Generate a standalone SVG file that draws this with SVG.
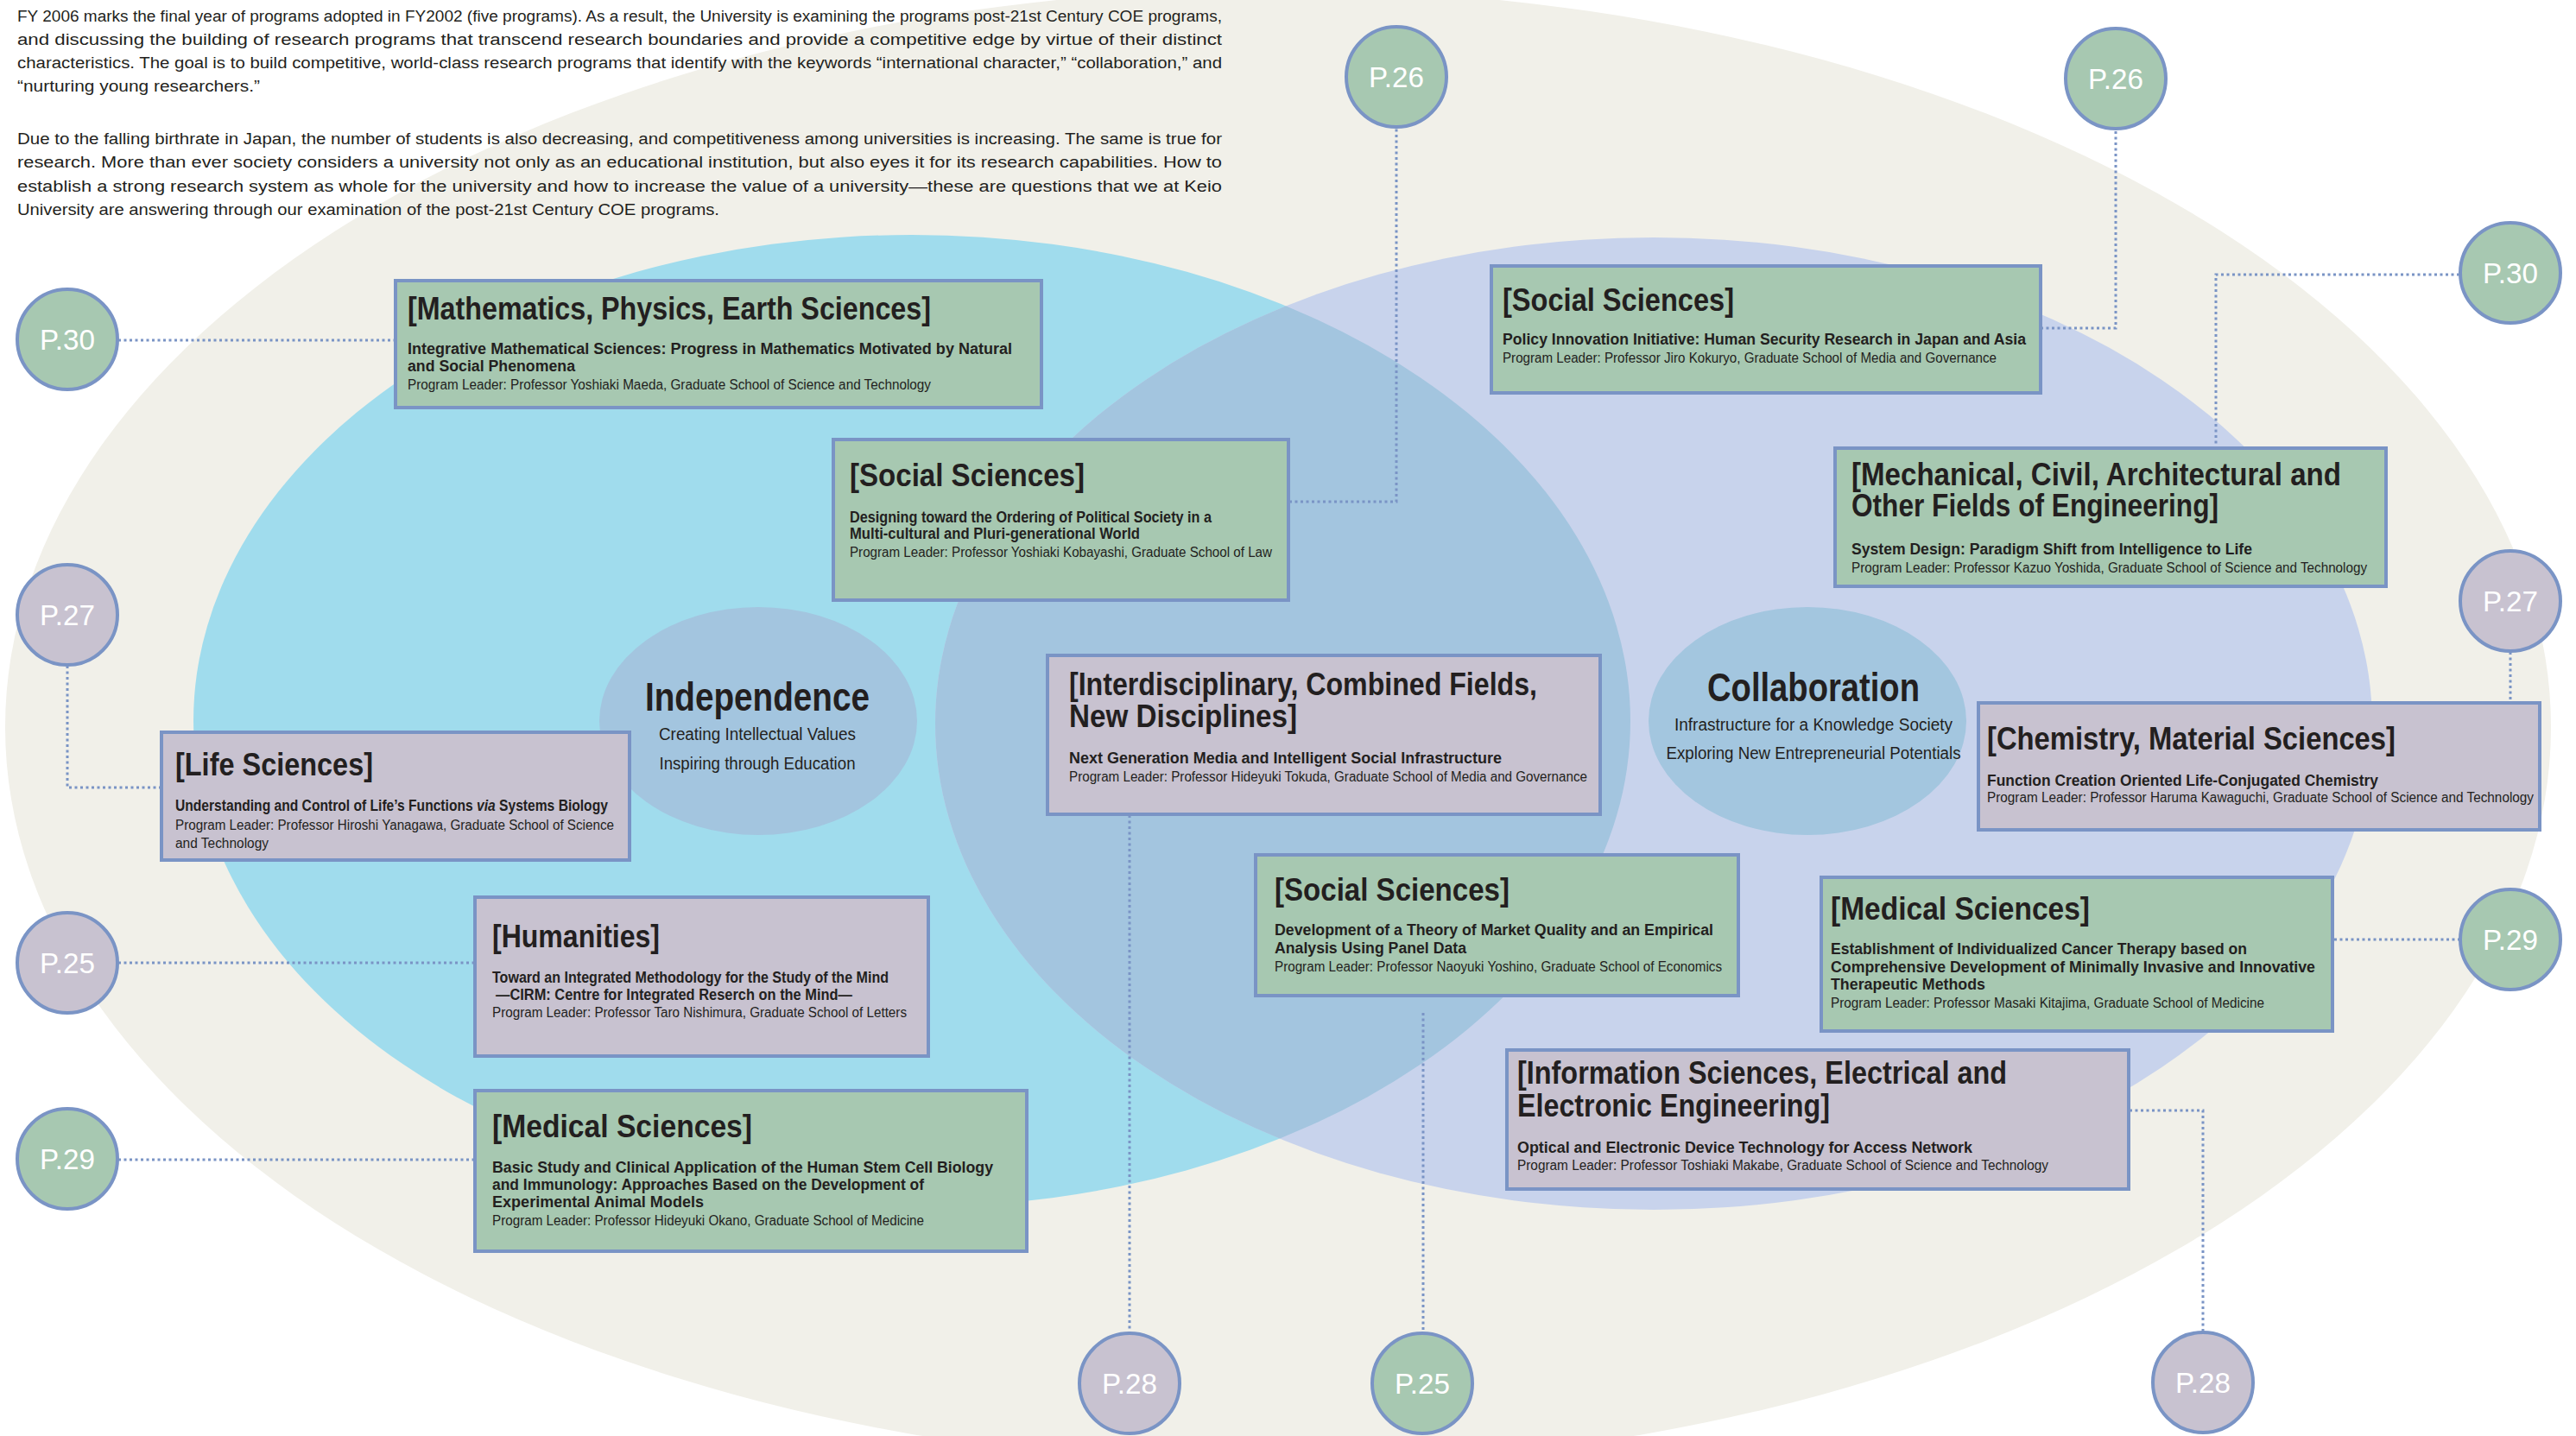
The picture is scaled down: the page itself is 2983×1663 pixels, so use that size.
<svg xmlns="http://www.w3.org/2000/svg" width="2983" height="1663" viewBox="0 0 2983 1663">
<style>
text{font-family:"Liberation Sans Narrow","Liberation Sans",Arial,sans-serif;fill:#231F20}
.body{font-size:18px}
.t{font-size:36px;font-weight:bold}
.s{font-size:18px;font-weight:bold}
.l{font-size:16px}
.big{font-size:46px;font-weight:bold}
.sub{font-size:20px}
.pg{font-size:34px;fill:#FFFFFF;text-anchor:middle}
.bg{fill:#A7C8B1;stroke:#7A94C5;stroke-width:4}
.bp{fill:#C8C2D0;stroke:#7A94C5;stroke-width:4}
.cg{fill:#A7C8B1;stroke:#7A94C5;stroke-width:4}
.cp{fill:#C8C2D0;stroke:#7A94C5;stroke-width:4}
.dot{fill:none;stroke:#7A94C5;stroke-width:3;stroke-dasharray:3 3.5}
</style>
<defs>
<clipPath id="lavClip"><ellipse cx="1915" cy="838" rx="832" ry="563"/></clipPath>
</defs>
<rect width="2983" height="1663" fill="#FFFFFF"/>
<g id="background">
<ellipse cx="1480" cy="842" rx="1474" ry="855" fill="#F1F0E9"/>
<ellipse cx="1056" cy="835" rx="832" ry="563" fill="#A0DCED"/>
<ellipse cx="1915" cy="838" rx="832" ry="563" fill="#C8D3EC"/>
<ellipse cx="1056" cy="835" rx="832" ry="563" fill="#A3C5DF" clip-path="url(#lavClip)"/>
</g>
<g id="intro">
<text class="body" x="20" y="25" textLength="1395" lengthAdjust="spacingAndGlyphs">FY 2006 marks the final year of programs adopted in FY2002 (five programs). As a result, the University is examining the programs post-21st Century COE programs,</text>
<text class="body" x="20" y="52" textLength="1395" lengthAdjust="spacingAndGlyphs">and discussing the building of research programs that transcend research boundaries and provide a competitive edge by virtue of their distinct</text>
<text class="body" x="20" y="79" textLength="1395" lengthAdjust="spacingAndGlyphs">characteristics. The goal is to build competitive, world-class research programs that identify with the keywords “international character,” “collaboration,” and</text>
<text class="body" x="20" y="106" textLength="281" lengthAdjust="spacingAndGlyphs">“nurturing young researchers.”</text>
<text class="body" x="20" y="167" textLength="1395" lengthAdjust="spacingAndGlyphs">Due to the falling birthrate in Japan, the number of students is also decreasing, and competitiveness among universities is increasing. The same is true for</text>
<text class="body" x="20" y="194" textLength="1395" lengthAdjust="spacingAndGlyphs">research. More than ever society considers a university not only as an educational institution, but also eyes it for its research capabilities. How to</text>
<text class="body" x="20" y="222" textLength="1395" lengthAdjust="spacingAndGlyphs">establish a strong research system as whole for the university and how to increase the value of a university—these are questions that we at Keio</text>
<text class="body" x="20" y="249" textLength="813" lengthAdjust="spacingAndGlyphs">University are answering through our examination of the post-21st Century COE programs.</text>
</g>
<g id="independence">
<ellipse cx="878" cy="835" rx="184" ry="132" fill="#A3C5DF"/>
<text class="big" x="877" y="823" text-anchor="middle" textLength="260" lengthAdjust="spacingAndGlyphs">Independence</text>
<text class="sub" x="877" y="857" text-anchor="middle" textLength="228" lengthAdjust="spacingAndGlyphs">Creating Intellectual Values</text>
<text class="sub" x="877" y="891" text-anchor="middle" textLength="227" lengthAdjust="spacingAndGlyphs">Inspiring through Education</text>
</g>
<g id="collaboration">
<ellipse cx="2093" cy="835" rx="184" ry="132" fill="#A3C6DF"/>
<text class="big" x="2100" y="812" text-anchor="middle" textLength="246" lengthAdjust="spacingAndGlyphs">Collaboration</text>
<text class="sub" x="2100" y="846" text-anchor="middle" textLength="322" lengthAdjust="spacingAndGlyphs">Infrastructure for a Knowledge Society</text>
<text class="sub" x="2100" y="879" text-anchor="middle" textLength="341" lengthAdjust="spacingAndGlyphs">Exploring New Entrepreneurial Potentials</text>
</g>
<g id="connectors">
<path class="dot" d="M137,394 H456"/>
<path class="dot" d="M78,771 V912 H185"/>
<path class="dot" d="M137,1115 H548"/>
<path class="dot" d="M137,1343 H548"/>
<path class="dot" d="M1493,581 H1617 V148"/>
<path class="dot" d="M2363,380 H2450 V150"/>
<path class="dot" d="M2848,318 H2566 V517"/>
<path class="dot" d="M2907,755 V812"/>
<path class="dot" d="M2703,1088 H2848"/>
<path class="dot" d="M1308,944 V1543"/>
<path class="dot" d="M1648,1173 V1543"/>
<path class="dot" d="M2466,1286 H2551 V1542"/>
</g>
<g id="box-math">
<rect class="bg" x="458" y="325" width="748" height="147"/>
<text class="t" x="472" y="370" textLength="606" lengthAdjust="spacingAndGlyphs">[Mathematics, Physics, Earth Sciences]</text>
<text class="s" x="472" y="410" textLength="700" lengthAdjust="spacingAndGlyphs">Integrative Mathematical Sciences: Progress in Mathematics Motivated by Natural</text>
<text class="s" x="472" y="430" textLength="194" lengthAdjust="spacingAndGlyphs">and Social Phenomena</text>
<text class="l" x="472" y="451" textLength="606" lengthAdjust="spacingAndGlyphs">Program Leader: Professor Yoshiaki Maeda, Graduate School of Science and Technology</text>
</g>
<g id="box-social-law">
<rect class="bg" x="965" y="509" width="527" height="186"/>
<text class="t" x="984" y="563" textLength="272" lengthAdjust="spacingAndGlyphs">[Social Sciences]</text>
<text class="s" x="984" y="605" textLength="419" lengthAdjust="spacingAndGlyphs">Designing toward the Ordering of Political Society in a</text>
<text class="s" x="984" y="624" textLength="336" lengthAdjust="spacingAndGlyphs">Multi-cultural and Pluri-generational World</text>
<text class="l" x="984" y="645" textLength="489" lengthAdjust="spacingAndGlyphs">Program Leader: Professor Yoshiaki Kobayashi, Graduate School of Law</text>
</g>
<g id="box-life">
<rect class="bp" x="187" y="848" width="542" height="148"/>
<text class="t" x="203" y="898" textLength="229" lengthAdjust="spacingAndGlyphs">[Life Sciences]</text>
<text class="s" font-family="Liberation Sans, Arial, sans-serif" transform="translate(203,939) scale(0.868,1)" x="0" y="0">Understanding and Control of Life’s Functions <tspan font-style="italic">via</tspan> Systems Biology</text>
<text class="l" x="203" y="961" textLength="508" lengthAdjust="spacingAndGlyphs">Program Leader: Professor Hiroshi Yanagawa, Graduate School of Science</text>
<text class="l" x="203" y="982" textLength="108" lengthAdjust="spacingAndGlyphs">and Technology</text>
</g>
<g id="box-humanities">
<rect class="bp" x="550" y="1039" width="525" height="184"/>
<text class="t" x="570" y="1097" textLength="194" lengthAdjust="spacingAndGlyphs">[Humanities]</text>
<text class="s" x="570" y="1138" textLength="459" lengthAdjust="spacingAndGlyphs">Toward an Integrated Methodology for the Study of the Mind</text>
<text class="s" x="574" y="1158" textLength="413" lengthAdjust="spacingAndGlyphs">—CIRM: Centre for Integrated Reserch on the Mind—</text>
<text class="l" x="570" y="1178" textLength="480" lengthAdjust="spacingAndGlyphs">Program Leader: Professor Taro Nishimura, Graduate School of Letters</text>
</g>
<g id="box-medical-left">
<rect class="bg" x="550" y="1263" width="639" height="186"/>
<text class="t" x="570" y="1317" textLength="301" lengthAdjust="spacingAndGlyphs">[Medical Sciences]</text>
<text class="s" x="570" y="1358" textLength="580" lengthAdjust="spacingAndGlyphs">Basic Study and Clinical Application of the Human Stem Cell Biology</text>
<text class="s" x="570" y="1378" textLength="500" lengthAdjust="spacingAndGlyphs">and Immunology: Approaches Based on the Development of</text>
<text class="s" x="570" y="1398" textLength="245" lengthAdjust="spacingAndGlyphs">Experimental Animal Models</text>
<text class="l" x="570" y="1419" textLength="500" lengthAdjust="spacingAndGlyphs">Program Leader: Professor Hideyuki Okano, Graduate School of Medicine</text>
</g>
<g id="box-interdisciplinary">
<rect class="bp" x="1213" y="759" width="640" height="184"/>
<text class="t" x="1238" y="805" textLength="542" lengthAdjust="spacingAndGlyphs">[Interdisciplinary, Combined Fields,</text>
<text class="t" x="1238" y="842" textLength="264" lengthAdjust="spacingAndGlyphs">New Disciplines]</text>
<text class="s" x="1238" y="884" textLength="501" lengthAdjust="spacingAndGlyphs">Next Generation Media and Intelligent Social Infrastructure</text>
<text class="l" x="1238" y="905" textLength="600" lengthAdjust="spacingAndGlyphs">Program Leader: Professor Hideyuki Tokuda, Graduate School of Media and Governance</text>
</g>
<g id="box-social-policy">
<rect class="bg" x="1727" y="308" width="636" height="147"/>
<text class="t" x="1740" y="360" textLength="268" lengthAdjust="spacingAndGlyphs">[Social Sciences]</text>
<text class="s" x="1740" y="399" textLength="606" lengthAdjust="spacingAndGlyphs">Policy Innovation Initiative: Human Security Research in Japan and Asia</text>
<text class="l" x="1740" y="420" textLength="572" lengthAdjust="spacingAndGlyphs">Program Leader: Professor Jiro Kokuryo, Graduate School of Media and Governance</text>
</g>
<g id="box-mechanical">
<rect class="bg" x="2125" y="519" width="638" height="160"/>
<text class="t" x="2144" y="562" textLength="567" lengthAdjust="spacingAndGlyphs">[Mechanical, Civil, Architectural and</text>
<text class="t" x="2144" y="598" textLength="425" lengthAdjust="spacingAndGlyphs">Other Fields of Engineering]</text>
<text class="s" x="2144" y="642" textLength="464" lengthAdjust="spacingAndGlyphs">System Design: Paradigm Shift from Intelligence to Life</text>
<text class="l" x="2144" y="663" textLength="597" lengthAdjust="spacingAndGlyphs">Program Leader: Professor Kazuo Yoshida, Graduate School of Science and Technology</text>
</g>
<g id="box-chemistry">
<rect class="bp" x="2291" y="814" width="650" height="147"/>
<text class="t" x="2301" y="868" textLength="473" lengthAdjust="spacingAndGlyphs">[Chemistry, Material Sciences]</text>
<text class="s" x="2301" y="910" textLength="453" lengthAdjust="spacingAndGlyphs">Function Creation Oriented Life-Conjugated Chemistry</text>
<text class="l" x="2301" y="929" textLength="633" lengthAdjust="spacingAndGlyphs">Program Leader: Professor Haruma Kawaguchi, Graduate School of Science and Technology</text>
</g>
<g id="box-social-econ">
<rect class="bg" x="1454" y="990" width="559" height="163"/>
<text class="t" x="1476" y="1043" textLength="272" lengthAdjust="spacingAndGlyphs">[Social Sciences]</text>
<text class="s" x="1476" y="1083" textLength="508" lengthAdjust="spacingAndGlyphs">Development of a Theory of Market Quality and an Empirical</text>
<text class="s" x="1476" y="1104" textLength="222" lengthAdjust="spacingAndGlyphs">Analysis Using Panel Data</text>
<text class="l" x="1476" y="1125" textLength="518" lengthAdjust="spacingAndGlyphs">Program Leader: Professor Naoyuki Yoshino, Graduate School of Economics</text>
</g>
<g id="box-medical-right">
<rect class="bg" x="2109" y="1016" width="592" height="178"/>
<text class="t" x="2120" y="1065" textLength="300" lengthAdjust="spacingAndGlyphs">[Medical Sciences]</text>
<text class="s" x="2120" y="1105" textLength="482" lengthAdjust="spacingAndGlyphs">Establishment of Individualized Cancer Therapy based on</text>
<text class="s" x="2120" y="1126" textLength="561" lengthAdjust="spacingAndGlyphs">Comprehensive Development of Minimally Invasive and Innovative</text>
<text class="s" x="2120" y="1146" textLength="179" lengthAdjust="spacingAndGlyphs">Therapeutic Methods</text>
<text class="l" x="2120" y="1167" textLength="502" lengthAdjust="spacingAndGlyphs">Program Leader: Professor Masaki Kitajima, Graduate School of Medicine</text>
</g>
<g id="box-information">
<rect class="bp" x="1745" y="1216" width="720" height="161"/>
<text class="t" x="1757" y="1255" textLength="567" lengthAdjust="spacingAndGlyphs">[Information Sciences, Electrical and</text>
<text class="t" x="1757" y="1293" textLength="362" lengthAdjust="spacingAndGlyphs">Electronic Engineering]</text>
<text class="s" x="1757" y="1335" textLength="527" lengthAdjust="spacingAndGlyphs">Optical and Electronic Device Technology for Access Network</text>
<text class="l" x="1757" y="1355" textLength="615" lengthAdjust="spacingAndGlyphs">Program Leader: Professor Toshiaki Makabe, Graduate School of Science and Technology</text>
</g>
<g id="page-p30-left"><circle class="cg" cx="78" cy="393" r="58"/><text class="pg" x="78" y="405" textLength="64" lengthAdjust="spacingAndGlyphs">P.30</text></g>
<g id="page-p27-left"><circle class="cp" cx="78" cy="712" r="58"/><text class="pg" x="78" y="724" textLength="64" lengthAdjust="spacingAndGlyphs">P.27</text></g>
<g id="page-p25-left"><circle class="cp" cx="78" cy="1115" r="58"/><text class="pg" x="78" y="1127" textLength="64" lengthAdjust="spacingAndGlyphs">P.25</text></g>
<g id="page-p29-left"><circle class="cg" cx="78" cy="1342" r="58"/><text class="pg" x="78" y="1354" textLength="64" lengthAdjust="spacingAndGlyphs">P.29</text></g>
<g id="page-p26-mid"><circle class="cg" cx="1617" cy="89" r="58"/><text class="pg" x="1617" y="101" textLength="64" lengthAdjust="spacingAndGlyphs">P.26</text></g>
<g id="page-p26-right"><circle class="cg" cx="2450" cy="91" r="58"/><text class="pg" x="2450" y="103" textLength="64" lengthAdjust="spacingAndGlyphs">P.26</text></g>
<g id="page-p30-right"><circle class="cg" cx="2907" cy="316" r="58"/><text class="pg" x="2907" y="328" textLength="64" lengthAdjust="spacingAndGlyphs">P.30</text></g>
<g id="page-p27-right"><circle class="cp" cx="2907" cy="696" r="58"/><text class="pg" x="2907" y="708" textLength="64" lengthAdjust="spacingAndGlyphs">P.27</text></g>
<g id="page-p29-right"><circle class="cg" cx="2907" cy="1088" r="58"/><text class="pg" x="2907" y="1100" textLength="64" lengthAdjust="spacingAndGlyphs">P.29</text></g>
<g id="page-p28-bottom-left"><circle class="cp" cx="1308" cy="1602" r="58"/><text class="pg" x="1308" y="1614" textLength="64" lengthAdjust="spacingAndGlyphs">P.28</text></g>
<g id="page-p25-bottom"><circle class="cg" cx="1647" cy="1602" r="58"/><text class="pg" x="1647" y="1614" textLength="64" lengthAdjust="spacingAndGlyphs">P.25</text></g>
<g id="page-p28-bottom-right"><circle class="cp" cx="2551" cy="1601" r="58"/><text class="pg" x="2551" y="1613" textLength="64" lengthAdjust="spacingAndGlyphs">P.28</text></g>
</svg>
